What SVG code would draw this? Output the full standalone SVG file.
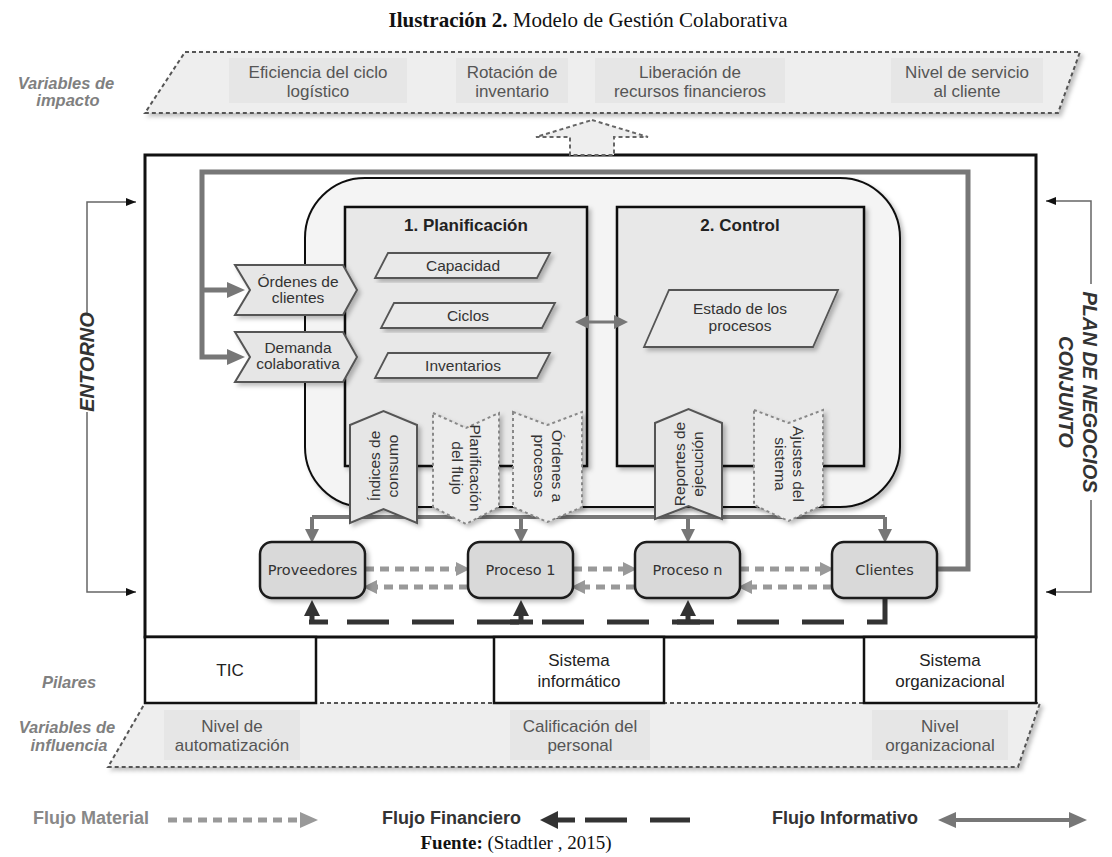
<svg xmlns="http://www.w3.org/2000/svg" width="1112" height="857" viewBox="0 0 1112 857">
<defs>
<style>
.sans{font-family:"Liberation Sans",Arial,sans-serif}
.lbl{font-family:"Liberation Sans",Arial,sans-serif;font-size:15.5px;fill:#333;text-anchor:middle}
.ban{font-family:"Liberation Sans",Arial,sans-serif;font-size:17px;fill:#555;text-anchor:middle}
.var{font-family:"Liberation Sans",Arial,sans-serif;font-size:16.5px;font-weight:bold;font-style:italic;fill:#808080;text-anchor:middle}
.side{font-family:"Liberation Sans",Arial,sans-serif;font-size:20px;font-weight:bold;font-style:italic;fill:#333;text-anchor:middle}
.hd{font-family:"Liberation Sans",Arial,sans-serif;font-size:17px;font-weight:bold;fill:#222;text-anchor:middle}
.pil{font-family:"Liberation Sans",Arial,sans-serif;font-size:17px;fill:#222;text-anchor:middle}
.nd{font-family:"DejaVu Sans",Verdana,sans-serif;font-size:14.5px;fill:#333;text-anchor:middle}
.leg{font-family:"Liberation Sans",Arial,sans-serif;font-size:18px;font-weight:bold}
.para{fill:#e9e9e9;stroke:#555;stroke-width:1.8}
.chev{fill:#e6e6e6;stroke:#555;stroke-width:2}
.chevd{fill:#ececec;stroke:#888;stroke-width:2;stroke-dasharray:3 3}
.node{fill:#d9d9d9;stroke:#1a1a1a;stroke-width:2.5}
.box{fill:#e8e8e8;stroke:#111;stroke-width:2.5}
.pill{fill:#fff;stroke:#111;stroke-width:2.5}
.txtbg{fill:#e6e6e6}
.mat{fill:none;stroke:#999;stroke-width:5;stroke-dasharray:9 6}
.fin{fill:none;stroke:#333;stroke-width:5}
.inf{fill:none;stroke:#777;stroke-width:4}
.loop{fill:none;stroke:#777;stroke-width:5}
.brk{fill:none;stroke:#666;stroke-width:1.5}
</style>
<filter id="sh" x="-20%" y="-20%" width="140%" height="140%">
<feDropShadow dx="3" dy="3" stdDeviation="2" flood-color="#000" flood-opacity="0.25"/>
</filter>
<marker id="mLoop" markerUnits="userSpaceOnUse" markerWidth="18" markerHeight="16" viewBox="0 0 18 16" refX="10" refY="8" orient="auto"><path d="M0,0 L18,8 L0,16 z" fill="#777"/></marker>
<marker id="mInf" markerUnits="userSpaceOnUse" markerWidth="14" markerHeight="14" viewBox="0 0 14 14" refX="6" refY="7" orient="auto-start-reverse"><path d="M0,0 L14,7 L0,14 z" fill="#777"/></marker>
<marker id="mMat" markerUnits="userSpaceOnUse" markerWidth="14" markerHeight="14" viewBox="0 0 14 14" refX="6" refY="7" orient="auto"><path d="M0,0 L14,7 L0,14 z" fill="#999"/></marker>
<marker id="mFin" markerUnits="userSpaceOnUse" markerWidth="16" markerHeight="16" viewBox="0 0 16 16" refX="8" refY="8" orient="auto"><path d="M0,0 L16,8 L0,16 z" fill="#333"/></marker>
<marker id="mBrk" markerUnits="userSpaceOnUse" markerWidth="10" markerHeight="8" viewBox="0 0 10 8" refX="10" refY="4" orient="auto"><path d="M0,0 L10,4 L0,8 z" fill="#111"/></marker>
</defs>
<rect width="1112" height="857" fill="#fff"/>

<!-- Title -->
<text x="588" y="27" text-anchor="middle" style="font-family:'Liberation Serif','Times New Roman',serif;font-size:21px;fill:#111"><tspan font-weight="bold">Ilustración 2.</tspan> Modelo de Gestión Colaborativa</text>

<!-- Impact variables banner -->
<g id="impacto">
<text class="var"><tspan x="66" y="89">Variables de</tspan><tspan x="68" y="106">impacto</tspan></text>
<polygon points="185,52 1080,52 1058,113 145,113" fill="#eeeeee" stroke="#555" stroke-width="2" stroke-dasharray="4 3" filter="url(#sh)"/>
<rect class="txtbg" x="229" y="58" width="178" height="45"/>
<rect class="txtbg" x="456" y="58" width="112" height="45"/>
<rect class="txtbg" x="595" y="58" width="190" height="45"/>
<rect class="txtbg" x="891" y="58" width="152" height="45"/>
<text class="ban"><tspan x="318" y="78">Eficiencia del ciclo</tspan><tspan x="318" y="97">logístico</tspan></text>
<text class="ban"><tspan x="512" y="78">Rotación de</tspan><tspan x="512" y="97">inventario</tspan></text>
<text class="ban"><tspan x="690" y="78">Liberación de</tspan><tspan x="690" y="97">recursos financieros</tspan></text>
<text class="ban"><tspan x="967" y="78">Nivel de servicio</tspan><tspan x="967" y="97">al cliente</tspan></text>
</g>

<!-- Main frame -->
<g id="marco">
<rect x="145" y="155" width="891" height="482" fill="#fff" stroke="#111" stroke-width="3"/>
</g>

<!-- Collaborative panel -->
<g id="panel">
<rect x="305" y="178" width="595" height="329" rx="60" ry="60" fill="#f4f4f4" stroke="#111" stroke-width="2" filter="url(#sh)"/>
</g>

<g id="planificacion">
<rect class="box" x="345" y="207" width="242" height="259" filter="url(#sh)"/>
<text class="hd" x="466" y="231">1. Planificación</text>
</g>
<g id="control">
<rect class="box" x="617" y="207" width="247" height="259" filter="url(#sh)"/>
<text class="hd" x="740" y="231">2. Control</text>
</g>

<g id="capacidad">
<polygon class="para" points="388,253 550,253 537,278 375,278" filter="url(#sh)"/>
<text class="lbl" x="463" y="271">Capacidad</text>
</g>
<g id="ciclos">
<polygon class="para" points="394,303 555,303 542,328 381,328" filter="url(#sh)"/>
<text class="lbl" x="468" y="321">Ciclos</text>
</g>
<g id="inventarios">
<polygon class="para" points="388,353 550,353 537,378 375,378" filter="url(#sh)"/>
<text class="lbl" x="463" y="371">Inventarios</text>
</g>
<g id="estado">
<polygon class="para" points="669,290 838,290 813,347 644,347" filter="url(#sh)"/>
<text class="lbl"><tspan x="740" y="314">Estado de los</tspan><tspan x="740" y="331">procesos</tspan></text>
</g>

<g id="ordenes-clientes">
<polygon class="chev" points="235,265 343,265 357,290 343,315 235,315 250,290" filter="url(#sh)"/>
<text class="lbl"><tspan x="298" y="287">Órdenes de</tspan><tspan x="298" y="303">clientes</tspan></text>
</g>
<g id="demanda">
<polygon class="chev" points="235,332 343,332 357,357 343,382 235,382 250,357" filter="url(#sh)"/>
<text class="lbl"><tspan x="298" y="353">Demanda</tspan><tspan x="298" y="369">colaborativa</tspan></text>
</g>

<!-- Connectors -->
<g id="conectores">
<polygon points="592,120 648,137 614,137 614,155 570,155 570,137 536,137" fill="#eeeeee" stroke="#666" stroke-width="2" stroke-dasharray="4 3"/>
<path class="loop" d="M937,569 H968 V172 H202 V357 H237" marker-end="url(#mLoop)"/>
<path class="loop" d="M202,290 H237" marker-end="url(#mLoop)"/>
<path d="M583,322 H620" fill="none" stroke="#777" stroke-width="3" marker-start="url(#mInf)" marker-end="url(#mInf)"/>
<path class="inf" d="M312,517 H885"/>
<path class="inf" d="M312,517 V535" marker-end="url(#mInf)"/>
<path class="inf" d="M521,517 V535" marker-end="url(#mInf)"/>
<path class="inf" d="M688,517 V535" marker-end="url(#mInf)"/>
<path class="inf" d="M885,517 V535" marker-end="url(#mInf)"/>
<path class="mat" d="M365,569 H462" marker-end="url(#mMat)"/>
<path class="mat" d="M573,569 H629" marker-end="url(#mMat)"/>
<path class="mat" d="M740,569 H826" marker-end="url(#mMat)"/>
<path class="mat" d="M832,587 H746" marker-end="url(#mMat)"/>
<path class="mat" d="M635,587 H579" marker-end="url(#mMat)"/>
<path class="mat" d="M468,587 H371" marker-end="url(#mMat)"/>
<path class="fin" d="M347,622 H885 V598" stroke-dasharray="42 23"/>
<path class="fin" d="M309,622 H328"/>
<path class="fin" d="M510,622 H533"/>
<path class="fin" d="M677,622 H700"/>
<path class="fin" d="M312,622 V608" marker-end="url(#mFin)"/>
<path class="fin" d="M521,622 V608" marker-end="url(#mFin)"/>
<path class="fin" d="M688,622 V608" marker-end="url(#mFin)"/>
<path class="brk" d="M87,313 V202 H136" marker-end="url(#mBrk)"/>
<path class="brk" d="M87,412 V592 H136" marker-end="url(#mBrk)"/>
<path class="brk" d="M1091,284 V201 H1046" marker-end="url(#mBrk)"/>
<path class="brk" d="M1091,500 V592 H1046" marker-end="url(#mBrk)"/>
</g>

<!-- Bottom chevrons -->
<g id="indices">
<polygon class="chev" points="350,425 383.5,411 417,425 417,523 383.5,509 350,523" filter="url(#sh)"/>
<text class="lbl" transform="translate(383.5,466) rotate(-90)"><tspan x="0" y="-4">Índices de</tspan><tspan x="0" y="14">consumo</tspan></text>
</g>
<g id="plan-flujo">
<polygon class="chevd" points="433,413 466,428 499,413 499,507 466,524 433,507" filter="url(#sh)"/>
<text class="lbl" transform="translate(466,468) rotate(90)"><tspan x="0" y="-4">Planificación</tspan><tspan x="0" y="14">del flujo</tspan></text>
</g>
<g id="ordenes-procesos">
<polygon class="chevd" points="513,412 547.5,425 582,412 582,507 547.5,522 513,507" filter="url(#sh)"/>
<text class="lbl" transform="translate(547.5,466) rotate(90)"><tspan x="0" y="-4">Órdenes a</tspan><tspan x="0" y="14">procesos</tspan></text>
</g>
<g id="reportes">
<polygon class="chev" points="655,423 688.5,409 722,423 722,519 688.5,506 655,519" filter="url(#sh)"/>
<text class="lbl" transform="translate(688.5,464) rotate(-90)"><tspan x="0" y="-4">Reportes de</tspan><tspan x="0" y="14">ejecución</tspan></text>
</g>
<g id="ajustes">
<polygon class="chevd" points="754,410 788.5,423 823,410 823,505 788.5,521 754,505" filter="url(#sh)"/>
<text class="lbl" transform="translate(788.5,464) rotate(90)"><tspan x="0" y="-4">Ajustes del</tspan><tspan x="0" y="14">sistema</tspan></text>
</g>

<!-- Bottom nodes -->
<g id="proveedores">
<rect class="node" x="260" y="542" width="105" height="56" rx="12" filter="url(#sh)"/>
<text class="nd" x="312.5" y="575">Proveedores</text>
</g>
<g id="proceso1">
<rect class="node" x="468" y="542" width="105" height="56" rx="12" filter="url(#sh)"/>
<text class="nd" x="520.5" y="575">Proceso 1</text>
</g>
<g id="proceson">
<rect class="node" x="635" y="542" width="105" height="56" rx="12" filter="url(#sh)"/>
<text class="nd" x="687.5" y="575">Proceso n</text>
</g>
<g id="clientes">
<rect class="node" x="832" y="542" width="105" height="56" rx="12" filter="url(#sh)"/>
<text class="nd" x="884.5" y="575">Clientes</text>
</g>

<!-- Side labels -->
<g id="entorno">
<text class="side" transform="translate(87,362) rotate(-90)" y="7">ENTORNO</text>
</g>
<g id="plan-negocios">
<text class="side" transform="translate(1078,392) rotate(90)"><tspan x="0" y="-5">PLAN DE NEGOCIOS</tspan><tspan x="0" y="19">CONJUNTO</tspan></text>
</g>

<!-- Influence variables banner -->
<g id="influencia">
<polygon points="145,703 1040,703 1018,767 108,767" fill="#eeeeee" stroke="#555" stroke-width="2" stroke-dasharray="4 3" filter="url(#sh)"/>
<rect class="txtbg" x="164" y="710" width="136" height="50"/>
<rect class="txtbg" x="510" y="710" width="140" height="50"/>
<rect class="txtbg" x="872" y="710" width="136" height="50"/>
<text class="ban"><tspan x="232" y="732">Nivel de</tspan><tspan x="232" y="751">automatización</tspan></text>
<text class="ban"><tspan x="580" y="732">Calificación del</tspan><tspan x="580" y="751">personal</tspan></text>
<text class="ban"><tspan x="940" y="732">Nivel</tspan><tspan x="940" y="751">organizacional</tspan></text>
<text class="var"><tspan x="67" y="733">Variables de</tspan><tspan x="69" y="751">influencia</tspan></text>
</g>

<!-- Pillars -->
<g id="pilares">
<text class="var" x="69" y="688">Pilares</text>
<rect class="pill" x="145" y="637" width="171" height="66"/>
<text class="pil" x="230" y="676">TIC</text>
<rect class="pill" x="494" y="637" width="170" height="66"/>
<text class="pil"><tspan x="579" y="666">Sistema</tspan><tspan x="579" y="687">informático</tspan></text>
<rect class="pill" x="864" y="637" width="172" height="66"/>
<text class="pil"><tspan x="950" y="666">Sistema</tspan><tspan x="950" y="687">organizacional</tspan></text>
</g>

<!-- Legend -->
<g id="leyenda">
<text class="leg" x="33" y="824" fill="#888">Flujo Material</text>
<path d="M168,820 H305" fill="none" stroke="#999" stroke-width="5" stroke-dasharray="9 6"/>
<path d="M300,812 L318,820 L300,828 z" fill="#999"/>
<text class="leg" x="382" y="824" fill="#333">Flujo Financiero</text>
<path d="M540,820 L558,811 L558,829 z" fill="#333"/>
<path d="M556,820 H575 M585,820 H627 M650,820 H690" fill="none" stroke="#333" stroke-width="5"/>
<text class="leg" x="772" y="824" fill="#333">Flujo Informativo</text>
<path d="M950,820 H1075" fill="none" stroke="#777" stroke-width="4"/>
<path d="M938,820 L956,812 L956,828 z M1087,820 L1069,812 L1069,828 z" fill="#777"/>
</g>

<!-- Source -->
<text x="516" y="849" text-anchor="middle" style="font-family:'Liberation Serif','Times New Roman',serif;font-size:19px;fill:#111"><tspan font-weight="bold">Fuente:</tspan> (Stadtler , 2015)</text>
</svg>
